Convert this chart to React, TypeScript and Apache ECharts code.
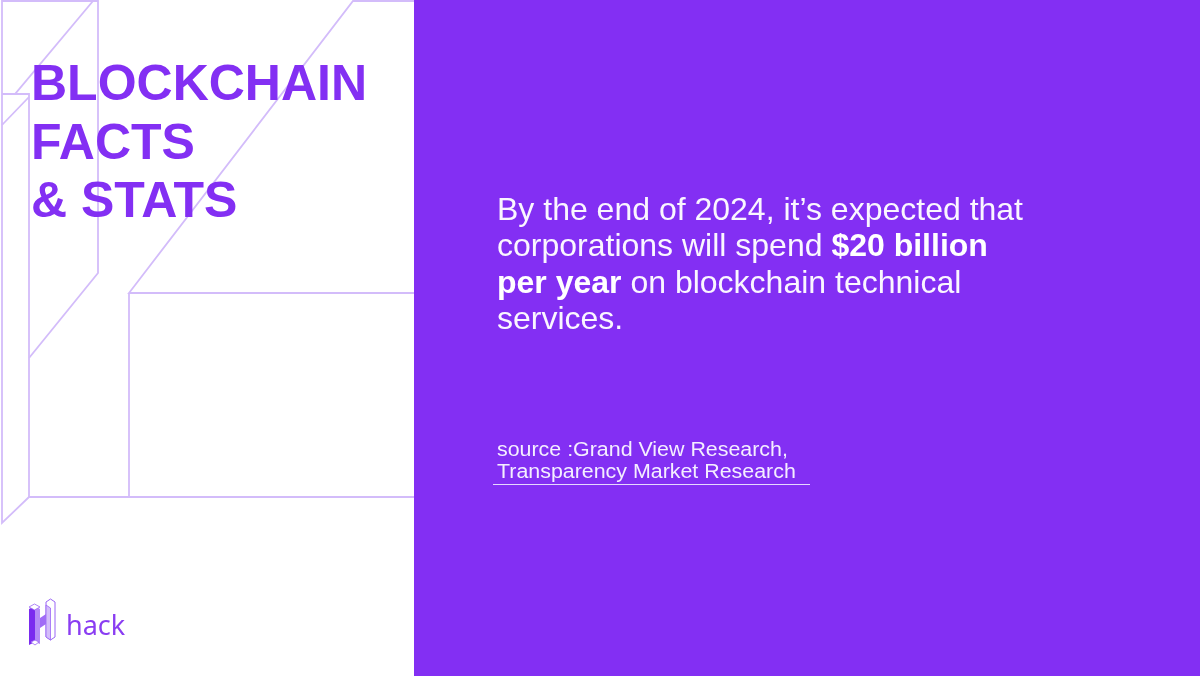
import React, { useEffect, useRef } from "react";
import * as echarts from "echarts";

const titleLines = ["BLOCKCHAIN", "FACTS", "& STATS"];
const bodyLines = [
  "By the end of 2024, it’s expected that",
  "corporations will spend {b|$20 billion}",
  "{b|per year} on blockchain technical",
  "services.",
];
const sourceLines = ["source :Grand View Research,", "Transparency Market Research"];
const brandName = "hack";

const PURPLE = "#832FF3";
const LINE = "#D3BCFA";
const BODY_FONT = "'Liberation Sans', Arial, sans-serif";

export default function App() {
  const ref = useRef<HTMLDivElement>(null);
  useEffect(() => {
    if (!ref.current) return;
    const chart = echarts.init(ref.current, undefined, { renderer: "svg" });

    const outlines: number[][][] = [
      [[2, 0], [2, 523], [29, 497], [415, 497]],
      [[2, 1], [98, 1], [98, 273], [29, 358]],
      [[93, 1], [15, 94], [2, 94]],
      [[2, 94], [29, 94], [29, 497]],
      [[29, 97], [2, 125]],
      [[415, 1], [353, 1], [129, 293], [415, 293]],
      [[129, 293], [129, 497]],
    ];

    const elements: any[] = [];
    elements.push({ type: "rect", shape: { x: 0, y: 0, width: 1200, height: 676 }, style: { fill: "#ffffff" }, silent: true });
    outlines.forEach((pts) => {
      elements.push({ type: "polyline", shape: { points: pts }, style: { stroke: LINE, lineWidth: 1.8, fill: null } });
    });
    elements.push({ type: "rect", shape: { x: 414, y: 0, width: 786, height: 676 }, style: { fill: PURPLE } });

    const titleBase = [100, 159, 217];
    titleLines.forEach((t, i) => {
      elements.push({
        type: "text",
        x: 31,
        y: titleBase[i] - 17.5,
        style: {
          text: t,
          fill: PURPLE,
          font: "bold 50px 'Liberation Sans', Arial, sans-serif",
          textAlign: "left",
          textVerticalAlign: "middle",
        },
      });
    });

    const bodyLH = 36.3;
    elements.push({
      type: "text",
      x: 497,
      y: 209 - bodyLH / 2,
      style: {
        text: bodyLines.join("\n"),
        fill: "#FAF6FF",
        fontSize: 32,
        lineHeight: bodyLH,
        fontFamily: BODY_FONT,
        textAlign: "left",
        textVerticalAlign: "top",
        rich: {
          b: { fontSize: 32, lineHeight: bodyLH, fontWeight: "bold", fontFamily: BODY_FONT, fill: "#FFFFFF" },
        },
      },
    });

    const srcLH = 22.4;
    const srcMid = [448.3, 448.3 + srcLH];
    sourceLines.forEach((t, i) => {
      elements.push({
        type: "text",
        x: 497,
        y: srcMid[i],
        scaleX: 1.07,
        style: {
          text: t,
          fill: "#F4EEFF",
          fontSize: 20,
          fontFamily: BODY_FONT,
          textAlign: "left",
          textVerticalAlign: "middle",
        },
      });
    });
    elements.push({ type: "line", shape: { x1: 493, y1: 484.5, x2: 810, y2: 484.5 }, style: { stroke: "#E6D8FF", lineWidth: 1.2 } });

    // logo icon
    elements.push({ type: "polygon", shape: { points: [[46, 602], [50.5, 599], [55, 602], [55, 637], [50.5, 640], [46, 637]] }, style: { fill: "#ffffff", stroke: "#9B66F5", lineWidth: 1 } });
    elements.push({ type: "polygon", shape: { points: [[46, 605], [50.5, 608], [50.5, 640], [46, 637]] }, style: { fill: "#D3BCFA", stroke: "#9B66F5", lineWidth: 0.8 } });
    elements.push({ type: "polygon", shape: { points: [[40, 618], [46, 614], [46, 624], [40, 628]] }, style: { fill: "#A06CF6" } });
    elements.push({ type: "polygon", shape: { points: [[29, 609], [35, 606], [35, 642], [29, 645]] }, style: { fill: "#7A2BEF" } });
    elements.push({ type: "polygon", shape: { points: [[35, 606], [40, 609], [40, 644], [35, 642]] }, style: { fill: "#B48AF7" } });
    elements.push({ type: "polygon", shape: { points: [[29, 607], [34.5, 604], [40, 607], [34.5, 610]] }, style: { fill: "#ffffff", stroke: "#9B66F5", lineWidth: 0.8 } });
    elements.push({ type: "polygon", shape: { points: [[31, 642], [35, 640], [39, 642], [35, 645]] }, style: { fill: "#ffffff", stroke: "#9B66F5", lineWidth: 0.8 } });

    elements.push({
      type: "text",
      x: 66,
      y: 624,
      style: {
        text: brandName,
        fill: "#8A3DF2",
        fontSize: 27,
        fontFamily: "'Noto Sans', sans-serif",
        textAlign: "left",
        textVerticalAlign: "middle",
      },
    });

    chart.setOption({ animation: false, graphic: { elements } });
    return () => chart.dispose();
  }, []);
  return <div ref={ref} style={{ position: "fixed", left: 0, top: 0, width: 1200, height: 676 }} />;
}
